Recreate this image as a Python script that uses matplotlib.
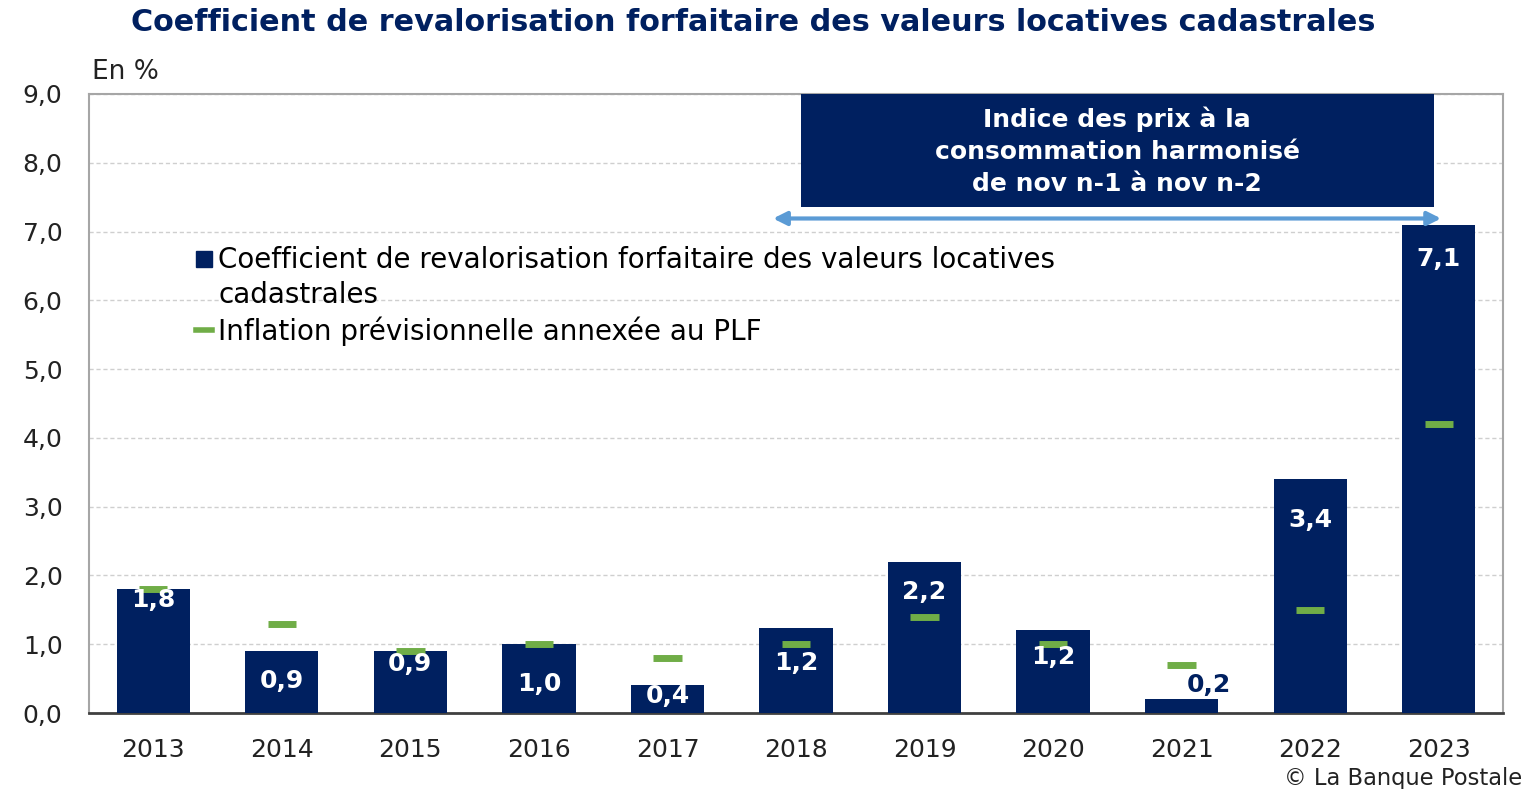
import matplotlib
matplotlib.use("Agg")
import matplotlib.pyplot as plt
from matplotlib.lines import Line2D
from matplotlib.patches import Rectangle

years = ["2013", "2014", "2015", "2016", "2017", "2018", "2019", "2020", "2021", "2022", "2023"]
coef = [1.8, 0.9, 0.9, 1.0, 0.4, 1.24, 2.2, 1.2, 0.2, 3.4, 7.1]
inflation = [1.8, 1.3, 0.9, 1.0, 0.8, 1.0, 1.4, 1.0, 0.7, 1.5, 4.2]
yticks = [0, 1, 2, 3, 4, 5, 6, 7, 8, 9]

NAVY = "#002060"
GREEN = "#70ad47"
ARROW = "#5b9bd5"
FONT = "DejaVu Sans"

plt.rcParams["font.family"] = [FONT]

fig = plt.figure(figsize=(15.35, 7.89), dpi=100)
ax = fig.add_axes([89 / 1535, 76 / 789, 1414 / 1535, 619 / 789])

x = list(range(len(years)))
ax.bar(x, coef, width=0.57, color=NAVY, zorder=3)
ax.hlines(inflation, [i - 0.11 for i in x], [i + 0.11 for i in x], colors=GREEN, lw=5, zorder=4)

# data labels: (dx in px, offset below bar top in px)
label_offsets = [(0, 11), (0, 30), (0, 13), (0, 40), (0, 11), (0, 35), (0, 30), (0, 27), (27, -14), (0, 41), (0, 34)]
for i, v in enumerate(coef):
    txt = f"{v:.1f}".replace(".", ",")
    dx, off = label_offsets[i]
    col = "white" if off > 0 else NAVY
    ax.annotate(txt, (i, v), xytext=(dx * 0.72, -off * 0.72), textcoords="offset points",
                ha="center", va="center", color=col, fontsize=18, fontweight="bold", zorder=5)

ax.set_xlim(-0.5, 10.5)
ax.set_ylim(0, 9)
ax.set_yticks(yticks)
ax.set_yticklabels([f"{t:.1f}".replace(".", ",") for t in yticks])
ax.set_xticks(x)
ax.set_xticklabels(years)
ax.tick_params(axis="y", length=0, pad=19, labelsize=18, labelcolor="#222222")
ax.tick_params(axis="x", length=0, pad=18, labelsize=18, labelcolor="#222222")
ax.grid(axis="y", ls=(0, (3, 2)), color="#cfcfcf", lw=1, zorder=0)
for s in ["top", "left", "right"]:
    ax.spines[s].set_color("#a6a6a6")
    ax.spines[s].set_linewidth(1.5)
ax.spines["bottom"].set_color("#404040")
ax.spines["bottom"].set_linewidth(2)

# annotation box
ax.add_patch(Rectangle((5.04, 7.35), 4.92, 1.65, facecolor=NAVY, edgecolor="none", zorder=6))
ax.text(7.5, 8.17, "Indice des prix à la\nconsommation harmonisé\nde nov n-1 à nov n-2", ha="center", va="center",
        color="white", fontsize=18, fontweight="bold", linespacing=1.42, zorder=7)
ax.annotate("", xy=(10.04, 7.19), xytext=(4.80, 7.19),
            arrowprops=dict(arrowstyle="<|-|>", color=ARROW, lw=3, mutation_scale=20), zorder=7)

# legend (second line of the first entry as a handle-less row)
handles = [Line2D([], [], marker="s", ls="none", color=NAVY, markersize=11),
           Line2D([], [], ls="none"),
           Line2D([], [], color=GREEN, lw=4)]
labels = ["Coefficient de revalorisation forfaitaire des valeurs locatives",
          "cadastrales",
          "Inflation prévisionnelle annexée au PLF"]
ax.legend(handles, labels, loc="upper left", bbox_to_anchor=(0.068, 0.772), frameon=False,
          fontsize=20, handlelength=0.55, handletextpad=0.25, labelspacing=0.25, borderaxespad=0)

fig.text(0.491, 0.972, "Coefficient de revalorisation forfaitaire des valeurs locatives cadastrales",
         ha="center", va="center", color=NAVY, fontsize=21.8, fontweight="bold")
fig.text(92 / 1535, 1 - 72 / 789, "En %", ha="left", va="center", fontsize=19, color="#222222")
fig.text(1522 / 1535, 1 - 778 / 789, "© La Banque Postale", ha="right", va="center", fontsize=16.3, color="#222222")

fig.savefig("out.png", dpi=100)
